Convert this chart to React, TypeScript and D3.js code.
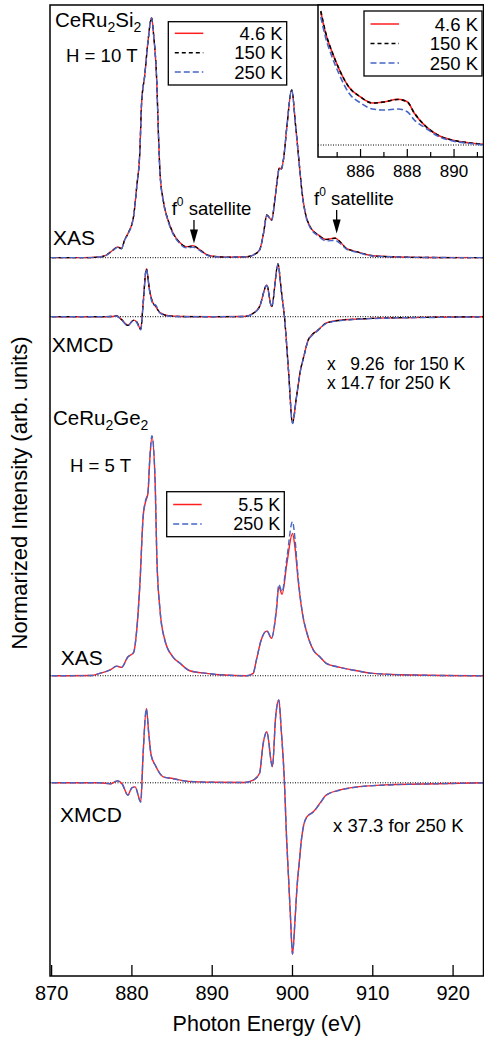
import React from "react";
import * as d3 from "d3";

// ---------- DATA (energies in eV, intensities in arbitrary units) ----------
const xTicks = [870, 880, 890, 900, 910, 920];
const insetMajorTicks = [886, 888, 890];
const insetMinorTicks = [885, 887, 889, 891];

// CeRu2Si2 XAS, H = 10 T
const siXasEnergy = [870, 874, 876, 876.8, 877.7, 878.2, 878.7, 879.1, 879.5, 880.2, 880.6, 881.0, 881.2, 881.6, 882.0, 882.45, 882.7, 883.1, 883.3, 883.5, 883.9, 884.5, 885.1, 886.0, 886.6, 887.0, 887.6, 888.3, 889.3, 890.3, 892, 894.3, 895.1, 895.9, 896.4, 896.8, 897.4, 897.8, 898.1, 898.35, 898.6, 898.9, 899.3, 899.9, 900.4, 900.8, 901.2, 901.6, 902.2, 903.2, 904.2, 905.3, 905.9, 906.7, 908, 910, 913, 916, 924];
const siXas4K = [0, 0, 0.03, 0.11, 0.33, 0.45, 0.38, 0.75, 1.0, 1.7, 2.96, 4.5, 6.4, 7.6, 9.0, 10.0, 9.3, 7.3, 5.2, 3.55, 2.4, 1.57, 1.05, 0.62, 0.47, 0.46, 0.5, 0.37, 0.13, 0.05, 0.02, 0.04, 0.11, 0.32, 1.03, 1.78, 1.57, 2.4, 3.24, 3.74, 3.7, 4.15, 5.46, 6.99, 5.46, 4.07, 2.7, 1.86, 1.29, 0.95, 0.76, 0.82, 0.67, 0.39, 0.25, 0.08, 0.03, 0.01, 0];
const siXas150K = [0, 0, 0.03, 0.11, 0.33, 0.44, 0.38, 0.74, 1.0, 1.7, 2.95, 4.5, 6.4, 7.6, 9.0, 10.0, 9.3, 7.3, 5.2, 3.55, 2.4, 1.57, 1.04, 0.61, 0.47, 0.46, 0.49, 0.37, 0.13, 0.05, 0.02, 0.04, 0.11, 0.32, 1.03, 1.78, 1.57, 2.4, 3.24, 3.73, 3.7, 4.15, 5.46, 6.99, 5.46, 4.07, 2.7, 1.86, 1.29, 0.95, 0.76, 0.81, 0.67, 0.39, 0.25, 0.08, 0.03, 0.01, 0];
const siXas250K = [0, 0, 0.03, 0.1, 0.31, 0.43, 0.37, 0.73, 0.98, 1.68, 2.95, 4.5, 6.4, 7.6, 9.0, 10.0, 9.3, 7.3, 5.2, 3.5, 2.36, 1.52, 1.0, 0.58, 0.42, 0.41, 0.44, 0.33, 0.11, 0.04, 0.02, 0.04, 0.11, 0.32, 1.02, 1.76, 1.55, 2.38, 3.22, 3.7, 3.68, 4.13, 5.46, 6.99, 5.44, 4.03, 2.66, 1.82, 1.25, 0.91, 0.7, 0.72, 0.6, 0.36, 0.23, 0.07, 0.03, 0.01, 0];

// CeRu2Si2 XMCD (150 K x 9.26, 250 K x 14.7)
const siXmcdEnergy = [870, 876, 877.5, 878.1, 878.7, 879.5, 880.2, 880.6, 881.1, 881.4, 881.8, 882.2, 882.65, 882.9, 883.5, 884.7, 886, 890, 894, 895.1, 895.9, 896.8, 897.4, 898.2, 898.6, 899.0, 899.5, 900.0, 900.5, 901.0, 901.4, 901.95, 902.4, 903.2, 904.2, 906, 908, 912, 918, 924];
const siXmcd4K = [0, 0, 0.01, 0.03, -0.11, -0.35, -0.14, -0.21, -0.51, 0.56, 2.0, 1.11, 0.56, 0.45, 0.17, 0.03, 0.01, 0, 0.01, 0.14, 0.42, 1.32, 0.42, 2.2, 1.11, 0, -2.22, -4.43, -3.33, -2.22, -1.67, -0.97, -0.76, -0.55, -0.26, -0.14, -0.1, -0.05, -0.02, 0];
const siXmcd150K = [0, 0, 0.01, 0.03, -0.12, -0.36, -0.15, -0.22, -0.52, 0.55, 2.0, 1.1, 0.55, 0.46, 0.17, 0.03, 0.01, 0, 0.01, 0.14, 0.42, 1.32, 0.42, 2.2, 1.1, 0, -2.22, -4.43, -3.33, -2.22, -1.67, -0.98, -0.77, -0.55, -0.27, -0.15, -0.1, -0.05, -0.02, 0];
const siXmcd250K = [0, 0, 0.01, 0.02, -0.13, -0.38, -0.16, -0.24, -0.55, 0.5, 1.98, 1.08, 0.5, 0.5, 0.15, 0.02, 0.0, 0, 0.01, 0.13, 0.41, 1.3, 0.41, 2.18, 1.08, 0, -2.24, -4.45, -3.35, -2.24, -1.69, -0.99, -0.79, -0.57, -0.28, -0.16, -0.11, -0.06, -0.03, 0];

// CeRu2Si2 XAS inset (884-891 eV)
const insetEnergy = [884.3, 884.5, 884.8, 885.1, 885.5, 886.0, 886.5, 887.0, 887.6, 888.0, 888.3, 888.8, 889.3, 889.9, 890.6, 891.3];
const inset4K = [1.33, 1.12, 0.92, 0.75, 0.58, 0.48, 0.42, 0.43, 0.457, 0.433, 0.317, 0.183, 0.1, 0.05, 0.023, 0.007];
const inset150K = [1.34, 1.13, 0.92, 0.75, 0.58, 0.48, 0.42, 0.43, 0.455, 0.432, 0.32, 0.185, 0.1, 0.05, 0.023, 0.007];
const inset250K = [1.28, 1.08, 0.87, 0.7, 0.52, 0.42, 0.36, 0.35, 0.36, 0.333, 0.25, 0.167, 0.09, 0.043, 0.017, 0.0];

// CeRu2Ge2 XAS, H = 5 T
const geXasEnergy = [870, 875, 876.0, 877.3, 878.1, 878.7, 879.5, 880.2, 880.6, 881.0, 881.4, 881.7, 882.0, 882.2, 882.5, 882.9, 883.1, 883.5, 884.1, 885.1, 886.0, 887.2, 889.3, 891, 894.3, 895.1, 895.5, 896.1, 896.8, 897.4, 898.0, 898.3, 898.7, 899.3, 900.0, 900.3, 900.7, 901.3, 901.8, 902.6, 903.4, 904.2, 905.9, 908, 910, 915, 924];
const geXas5K = [0, 0.01, 0.1, 0.24, 0.4, 0.35, 0.79, 0.96, 1.9, 3.85, 6.63, 7.25, 7.6, 8.85, 9.96, 8.0, 5.0, 2.74, 1.49, 0.79, 0.52, 0.21, 0.1, 0.04, 0, 0.1, 0.65, 1.49, 1.86, 1.56, 2.74, 3.71, 3.4, 4.68, 5.93, 5.38, 3.99, 2.46, 1.77, 1.07, 0.79, 0.52, 0.35, 0.21, 0.1, 0.03, 0];
const geXas250K = [0, 0.01, 0.1, 0.24, 0.4, 0.35, 0.78, 0.96, 1.9, 3.85, 6.63, 7.3, 7.65, 8.9, 10.0, 8.05, 5.0, 2.74, 1.49, 0.79, 0.52, 0.21, 0.1, 0.04, 0, 0.1, 0.65, 1.49, 1.88, 1.58, 2.8, 3.8, 3.5, 4.9, 6.42, 5.75, 4.1, 2.5, 1.78, 1.07, 0.79, 0.52, 0.35, 0.21, 0.1, 0.03, 0];

// CeRu2Ge2 XMCD (250 K x 37.3)
const geXmcdEnergy = [870, 876, 877.3, 878.2, 878.8, 879.5, 880.0, 880.4, 881.1, 881.4, 881.8, 882.1, 882.4, 882.9, 883.9, 885.1, 887, 890, 894, 895.1, 895.9, 896.35, 896.8, 897.5, 897.9, 898.3, 898.6, 899.0, 899.25, 899.5, 899.75, 900.0, 900.3, 900.55, 900.85, 901.1, 901.4, 901.8, 902.6, 903.4, 904.2, 905.9, 908, 912, 918, 924];
const geXmcd5K = [0, 0, -0.04, 0.08, -0.05, -0.51, -0.2, -0.17, -0.79, 1.24, 3.1, 2.06, 1.15, 0.74, 0.25, 0.18, 0.06, 0.02, 0.01, 0.11, 0.4, 1.64, 2.13, 0.67, 2.75, 3.45, 2.2, 0, -2.2, -3.9, -5.6, -7.15, -5.8, -4.4, -3.3, -2.4, -1.75, -1.42, -1.21, -0.86, -0.51, -0.3, -0.17, -0.08, -0.04, 0];
const geXmcd250K = [0, 0, -0.04, 0.08, -0.06, -0.52, -0.21, -0.18, -0.8, 1.22, 3.08, 2.05, 1.14, 0.74, 0.25, 0.17, 0.06, 0.02, 0.01, 0.11, 0.4, 1.63, 2.12, 0.67, 2.74, 3.44, 2.19, 0, -2.2, -3.9, -5.6, -7.13, -5.8, -4.4, -3.3, -2.4, -1.76, -1.43, -1.22, -0.87, -0.52, -0.31, -0.18, -0.09, -0.04, 0];

const legendTop = ["4.6 K", "150 K", "250 K"];
const legendBottom = ["5.5 K", "250 K"];

// ---------- LAYOUT ----------
const FONT = "'Liberation Sans', Arial, Helvetica, sans-serif";
const W = 484;
const H = 1040;
const L = 50, R = 483.5, T = 5, B = 976;
const panelOffset = { siXas: 29.93, siXmcd: 27.47, geXas: 12.51, geXmcd: 8.05 };
const STY: Record<string, { stroke: string; dash?: string; w: number }> = {
  red: { stroke: "#ff1e1e", w: 1.4 },
  black: { stroke: "#000000", dash: "4 3", w: 1.3 },
  blue: { stroke: "#4565c6", dash: "6 3", w: 1.4 },
};

export default function App() {
  const x = d3.scaleLinear().domain([869.8, 923.85]).range([L, 484]);
  const y = d3.scaleLinear().domain([0, 40.458]).range([B, T]);

  const ix = d3.scaleLinear().domain([884.18, 891.26]).range([318, R]);
  const iy = d3.scaleLinear().domain([-0.12, 1.4]).range([157, T]);

  const mainPath = (es: number[], vs: number[], off: number) =>
    d3
      .line<number>()
      .x((_, i) => x(es[i]))
      .y((v) => y(off + v))
      .curve(d3.curveMonotoneX)(vs) || "";
  const insetPath = (es: number[], vs: number[]) =>
    d3
      .line<number>()
      .x((_, i) => ix(es[i]))
      .y((v) => iy(v))
      .curve(d3.curveMonotoneX)(vs) || "";

  const mainSeries = [
    { e: siXasEnergy, v: siXas4K, off: panelOffset.siXas, s: "red" },
    { e: siXasEnergy, v: siXas150K, off: panelOffset.siXas, s: "black" },
    { e: siXasEnergy, v: siXas250K, off: panelOffset.siXas, s: "blue" },
    { e: siXmcdEnergy, v: siXmcd4K, off: panelOffset.siXmcd, s: "red" },
    { e: siXmcdEnergy, v: siXmcd150K, off: panelOffset.siXmcd, s: "black" },
    { e: siXmcdEnergy, v: siXmcd250K, off: panelOffset.siXmcd, s: "blue" },
    { e: geXasEnergy, v: geXas5K, off: panelOffset.geXas, s: "red" },
    { e: geXasEnergy, v: geXas250K, off: panelOffset.geXas, s: "blue" },
    { e: geXmcdEnergy, v: geXmcd5K, off: panelOffset.geXmcd, s: "red" },
    { e: geXmcdEnergy, v: geXmcd250K, off: panelOffset.geXmcd, s: "blue" },
  ];
  const insetSeries = [
    { v: inset4K, s: "red" },
    { v: inset150K, s: "black" },
    { v: inset250K, s: "blue" },
  ];

  const baselines = [panelOffset.siXas, panelOffset.siXmcd, panelOffset.geXas, panelOffset.geXmcd];

  const arrow = (e: number, y0: number, yTip: number) => {
    const cx = x(e);
    return (
      <g>
        <line x1={cx} x2={cx} y1={y0} y2={yTip - 10} stroke="#000" strokeWidth={1.3} />
        <polygon points={`${cx - 4},${yTip - 14} ${cx + 4},${yTip - 14} ${cx},${yTip}`} fill="#000" />
      </g>
    );
  };

  const legend = (
    labels: string[],
    styles: string[],
    bx: number,
    by: number,
    bw: number,
    bh: number,
    rowY: number[],
    fs: number
  ) => (
    <g>
      <rect x={bx} y={by} width={bw} height={bh} fill="#fff" stroke="#000" strokeWidth={1.3} />
      {labels.map((lab, i) => (
        <g key={lab + i}>
          <line
            x1={bx + 6.5}
            x2={bx + 35}
            y1={rowY[i]}
            y2={rowY[i]}
            stroke={STY[styles[i]].stroke}
            strokeWidth={1.5}
            strokeDasharray={STY[styles[i]].dash}
          />
          <text x={bx + bw - 4} y={rowY[i] + fs * 0.36} textAnchor="end" fontSize={fs} fontFamily={FONT}>
            {lab}
          </text>
        </g>
      ))}
    </g>
  );

  return (
    <svg
      width={W}
      height={H}
      style={{ position: "absolute", left: 0, top: 0, display: "block", background: "#fff" }}
      xmlns="http://www.w3.org/2000/svg"
    >
      <defs>
        <clipPath id="mainClip">
          <rect x={L} y={T} width={R - L} height={B - T} />
        </clipPath>
        <clipPath id="insetClip">
          <rect x={318} y={T} width={R - 318} height={157 - T} />
        </clipPath>
      </defs>
      <rect x={0} y={0} width={W} height={H} fill="#fff" />

      {/* dotted baselines */}
      {baselines.map((b, i) => (
        <line key={i} x1={L} x2={R} y1={y(b)} y2={y(b)} stroke="#000" strokeWidth={1} strokeDasharray="1 1.5" />
      ))}

      {/* curves */}
      <g clipPath="url(#mainClip)" fill="none">
        {mainSeries.map((sr, i) => (
          <path
            key={i}
            d={mainPath(sr.e, sr.v, sr.off)}
            stroke={STY[sr.s].stroke}
            strokeWidth={STY[sr.s].w}
            strokeDasharray={STY[sr.s].dash}
            strokeLinejoin="round"
          />
        ))}
      </g>

      {/* frame */}
      <rect x={L} y={T} width={R - L} height={B - T} fill="none" stroke="#000" strokeWidth={1.5} />
      {xTicks.map((t) => (
        <g key={t}>
          <line x1={x(t)} x2={x(t)} y1={B} y2={B - 11} stroke="#000" strokeWidth={1.3} />
          <text x={x(t)} y={1000} textAnchor="middle" fontSize={20} fontFamily={FONT}>
            {t}
          </text>
        </g>
      ))}
      <text x={(L + 484) / 2} y={1031} textAnchor="middle" fontSize={21.5} fontFamily={FONT}>
        Photon Energy (eV)
      </text>
      <text
        transform={`translate(26.5,${493}) rotate(-90)`}
        textAnchor="middle"
        fontSize={22}
        fontFamily={FONT}
      >
        Normarized Intensity (arb. units)
      </text>

      {/* panel labels */}
      <text x={55} y={26.7} fontSize={20.5} fontFamily={FONT}>
        CeRu<tspan fontSize={14} dy={5}>2</tspan>
        <tspan dy={-5}>Si</tspan>
        <tspan fontSize={14} dy={5}>2</tspan>
      </text>
      <text x={66} y={61.7} fontSize={18.6} fontFamily={FONT}>H = 10 T</text>
      <text x={53} y={245} fontSize={21} fontFamily={FONT}>XAS</text>
      <text x={51.7} y={351.7} fontSize={21} fontFamily={FONT}>XMCD</text>
      <text x={327} y={369.5} fontSize={17.5} fontFamily={FONT} xmlSpace="preserve">x   9.26  for 150 K</text>
      <text x={327} y={388.5} fontSize={17.5} fontFamily={FONT}>x 14.7 for 250 K</text>
      <text x={53} y={425} fontSize={20.5} fontFamily={FONT}>
        CeRu<tspan fontSize={14} dy={5}>2</tspan>
        <tspan dy={-5}>Ge</tspan>
        <tspan fontSize={14} dy={5}>2</tspan>
      </text>
      <text x={70} y={471.7} fontSize={18.6} fontFamily={FONT}>H = 5 T</text>
      <text x={60.7} y={665} fontSize={21} fontFamily={FONT}>XAS</text>
      <text x={60} y={821.7} fontSize={21} fontFamily={FONT}>XMCD</text>
      <text x={333} y={831.7} fontSize={18.5} fontFamily={FONT}>x 37.3 for 250 K</text>

      {/* f0 satellites */}
      <text x={171.7} y={215} fontSize={18.5} fontFamily={FONT}>
        f<tspan fontSize={12} dy={-9}>0</tspan>
        <tspan dy={9}> satellite</tspan>
      </text>
      {arrow(887.73, 220, 243.5)}
      <text x={314} y={205} fontSize={18.5} fontFamily={FONT}>
        f<tspan fontSize={12} dy={-9}>0</tspan>
        <tspan dy={9}> satellite</tspan>
      </text>
      {arrow(905.5, 210, 233.5)}

      {/* legends */}
      {legend(legendTop, ["red", "black", "blue"], 168.3, 21.7, 118.4, 63.3, [33.3, 52.7, 72], 18.5)}
      {legend(legendBottom, ["red", "blue"], 166.7, 491.7, 117.6, 45, [504.5, 524], 18)}

      {/* inset */}
      <rect x={318} y={T} width={R - 318} height={157 - T} fill="#fff" stroke="none" />
      <line x1={318} x2={R} y1={iy(0)} y2={iy(0)} stroke="#000" strokeWidth={1} strokeDasharray="1 1.5" />
      <g clipPath="url(#insetClip)" fill="none">
        {insetSeries.map((sr, i) => (
          <path
            key={i}
            d={insetPath(insetEnergy, sr.v)}
            stroke={STY[sr.s].stroke}
            strokeWidth={1.6}
            strokeDasharray={STY[sr.s].dash}
          />
        ))}
      </g>
      <rect x={318} y={T} width={R - 318} height={157 - T} fill="none" stroke="#000" strokeWidth={1.5} />
      {insetMajorTicks.map((t) => (
        <g key={t}>
          <line x1={ix(t)} x2={ix(t)} y1={157} y2={149} stroke="#000" strokeWidth={1.2} />
          <text x={ix(t)} y={176.7} textAnchor="middle" fontSize={17} fontFamily={FONT}>
            {t}
          </text>
        </g>
      ))}
      {insetMinorTicks.map((t) => (
        <line key={t} x1={ix(t)} x2={ix(t)} y1={157} y2={152} stroke="#000" strokeWidth={1.2} />
      ))}
      {legend(legendTop, ["red", "black", "blue"], 364, 11, 118, 65, [24, 43.5, 63], 18.5)}
    </svg>
  );
}
